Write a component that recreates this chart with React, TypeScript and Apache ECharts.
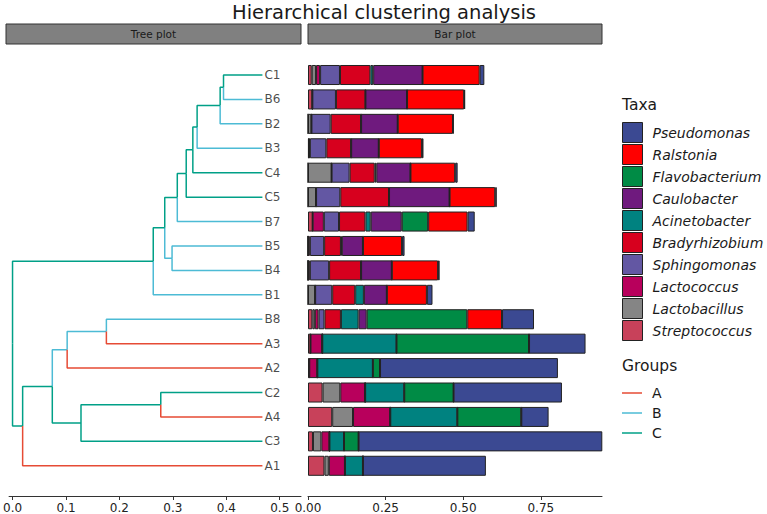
import React, { useEffect, useRef } from "react";
import * as echarts from "echarts";

// ---------- data ----------
const leaves = ["C1", "B6", "B2", "B3", "C4", "C5", "B7", "B5", "B4", "B1", "B8", "A3", "A2", "C2", "A4", "C3", "A1"];
const leafGroups = ["C", "B", "B", "B", "C", "C", "B", "B", "B", "B", "B", "A", "A", "C", "A", "C", "A"];
const leafHeight = 0.4676;

// internal nodes of the dendrogram (children listed before parents)
const nodeIds = ["m1", "m2", "m3", "m4", "m5", "m6", "m7", "m8", "m9", "m10", "m11", "m12", "m13", "m14", "m15", "root"];
const nodeChildren = [
  ["C1", "B6"], ["m1", "B2"], ["m2", "B3"], ["m3", "C4"], ["m4", "C5"], ["m5", "B7"],
  ["B5", "B4"], ["m6", "m7"], ["m8", "B1"],
  ["B8", "A3"], ["m10", "A2"], ["C2", "A4"], ["m12", "C3"], ["m11", "m13"], ["m14", "A1"],
  ["m9", "m15"],
];
const nodeHeights = [0.3948, 0.3885, 0.3454, 0.3374, 0.325, 0.3083, 0.2985, 0.2848, 0.2633, 0.1756, 0.1022, 0.2774, 0.1281, 0.0744, 0.0189, 0.0];
const nodeGroups = ["C", "C", "C", "C", "C", "C", "B", "C", "C", "B", "B", "C", "C", "C", "C", "C"];

const groupNames = ["A", "B", "C"];
const groupColors = ["#E64B35", "#4DBBD5", "#00A087"];

const treeTicks = [0, 0.1, 0.2, 0.3, 0.4, 0.5];
const barTicks = [0, 0.25, 0.5, 0.75];

// taxa in legend order (top to bottom)
const taxa = ["Pseudomonas", "Ralstonia", "Flavobacterium", "Caulobacter", "Acinetobacter", "Bradyrhizobium", "Sphingomonas", "Lactococcus", "Lactobacillus", "Streptococcus"];
const taxaColors = ["#3B4992", "#FF0000", "#008B45", "#6F1A7E", "#008280", "#D7001E", "#6357A3", "#B8005C", "#858585", "#C8415A"];

// relative abundance per sample, in leaf order
const pseudomonas = [0.015, 0.003, 0.002, 0.005, 0.008, 0.005, 0.023, 0.008, 0.005, 0.018, 0.103, 0.182, 0.573, 0.349, 0.088, 0.785, 0.396];
const ralstonia = [0.184, 0.184, 0.178, 0.139, 0.144, 0.147, 0.127, 0.126, 0.149, 0.129, 0.112, 0, 0, 0, 0, 0, 0];
const flavobacterium = [0, 0, 0, 0, 0, 0, 0.085, 0, 0, 0, 0.324, 0.427, 0.023, 0.159, 0.206, 0.047, 0];
const caulobacter = [0.159, 0.134, 0.118, 0.089, 0.110, 0.195, 0.100, 0.068, 0.099, 0.074, 0.026, 0, 0, 0, 0, 0, 0];
const acinetobacter = [0.009, 0, 0, 0, 0.005, 0, 0.017, 0.003, 0, 0.028, 0.057, 0.239, 0.179, 0.126, 0.216, 0.047, 0.058];
const bradyrhizobium = [0.098, 0.095, 0.098, 0.080, 0.081, 0.157, 0.085, 0.054, 0.103, 0.074, 0.053, 0, 0, 0, 0, 0, 0];
const sphingomonas = [0.064, 0.076, 0.062, 0.053, 0.058, 0.078, 0.049, 0.046, 0.062, 0.055, 0.019, 0, 0, 0, 0, 0, 0];
const lactococcus = [0.013, 0, 0, 0.003, 0, 0, 0.036, 0.006, 0.006, 0, 0.012, 0.038, 0.026, 0.080, 0.120, 0.026, 0.052];
const lactobacillus = [0.014, 0, 0.011, 0, 0.076, 0.026, 0, 0, 0, 0.023, 0.008, 0, 0, 0.057, 0.067, 0.027, 0.014];
const streptococcus = [0.012, 0.014, 0, 0.003, 0, 0, 0.015, 0, 0, 0, 0.014, 0.008, 0.004, 0.047, 0.078, 0.016, 0.053];

const taxaValues = [pseudomonas, ralstonia, flavobacterium, caulobacter, acinetobacter, bradyrhizobium, sphingomonas, lactococcus, lactobacillus, streptococcus];

// ---------- layout ----------
const FONT = "DejaVu Sans";
const rowBand = 24.44;
const gridTop = 62.8;
const gridHeight = leaves.length * rowBand;
const treeLeft = 6;
const treeWidth = 295;
const barLeft = 308;
const barWidthPx = 294;
const axisOffset = 18;
const lineIcon = "path://M0,0H20V1.5H0Z";

function buildOption() {
  const pos: Record<string, { x: number; y: number; g: string }> = {};
  leaves.forEach((l, i) => (pos[l] = { x: leafHeight, y: i, g: leafGroups[i] }));
  nodeIds.forEach((id, i) => {
    const [a, b] = nodeChildren[i];
    pos[id] = { x: nodeHeights[i], y: (pos[a].y + pos[b].y) / 2, g: nodeGroups[i] };
  });

  const edgeSeries: any[] = [];
  nodeIds.forEach((id, ni) => {
    const p = pos[id];
    nodeChildren[ni].forEach((c) => {
      const q = pos[c];
      const gi = groupNames.indexOf(q.g);
      edgeSeries.push({
        type: "line",
        name: q.g,
        xAxisIndex: 0,
        yAxisIndex: 0,
        data: [[p.x, p.y], [p.x, q.y], [q.x, q.y]],
        symbol: "none",
        showSymbol: false,
        silent: true,
        itemStyle: { color: groupColors[gi] },
        lineStyle: { color: groupColors[gi], width: 1.5 },
        z: q.g === "A" ? 3 : 2,
      });
    });
  });

  const labelSeries = {
    type: "scatter",
    xAxisIndex: 0,
    yAxisIndex: 0,
    symbol: "circle",
    symbolSize: 0.1,
    itemStyle: { color: "transparent" },
    silent: true,
    data: leaves.map((l, i) => ({ name: l, value: [leafHeight, i] })),
    label: {
      show: true,
      position: "right",
      distance: 2,
      formatter: "{b}",
      fontSize: 12,
      fontFamily: FONT,
      color: "#1a1a1a",
    },
  };

  // stack order: Streptococcus at the left, Pseudomonas at the right
  const barSeries = taxa
    .map((t, i) => ({
      type: "bar",
      name: t,
      stack: "taxa",
      xAxisIndex: 1,
      yAxisIndex: 1,
      barCategoryGap: "18%",
      data: taxaValues[i],
      itemStyle: { color: taxaColors[i], borderColor: "#222", borderWidth: 1 },
      silent: true,
    }))
    .reverse();

  const axisCommon = {
    type: "value",
    offset: axisOffset,
    axisLine: { show: true, onZero: false, lineStyle: { color: "#333", width: 1 } },
    splitLine: { show: false },
  };

  return {
    animation: false,
    graphic: [
      {
        type: "text",
        x: 384,
        y: 12,
        style: { text: "Hierarchical clustering analysis", fontSize: 19.5, fontFamily: FONT, fill: "#1a1a1a", align: "center", verticalAlign: "middle" },
      },
      { type: "rect", shape: { x: treeLeft, y: 24, width: treeWidth, height: 20 }, style: { fill: "#808080", stroke: "#333", lineWidth: 1 } },
      { type: "text", x: treeLeft + treeWidth / 2, y: 34, style: { text: "Tree plot", fontSize: 10.5, fontFamily: FONT, fill: "#1a1a1a", align: "center", verticalAlign: "middle" } },
      { type: "rect", shape: { x: barLeft, y: 24, width: barWidthPx, height: 20 }, style: { fill: "#808080", stroke: "#333", lineWidth: 1 } },
      { type: "text", x: barLeft + barWidthPx / 2, y: 34, style: { text: "Bar plot", fontSize: 10.5, fontFamily: FONT, fill: "#1a1a1a", align: "center", verticalAlign: "middle" } },
      { type: "text", x: 622, y: 105, style: { text: "Taxa", fontSize: 15.5, fontFamily: FONT, fill: "#1a1a1a", align: "left", verticalAlign: "middle" } },
      { type: "text", x: 622, y: 366, style: { text: "Groups", fontSize: 15.5, fontFamily: FONT, fill: "#1a1a1a", align: "left", verticalAlign: "middle" } },
    ],
    legend: [
      {
        data: taxa,
        orient: "vertical",
        left: 622,
        top: 122,
        padding: 0,
        itemWidth: 20,
        itemHeight: 20,
        itemGap: 1,
        icon: "rect",
        selectedMode: false,
        itemStyle: { borderColor: "#222", borderWidth: 1 },
        textStyle: { fontSize: 14, fontStyle: "italic", fontFamily: FONT, color: "#1a1a1a", padding: [0, 0, 0, 5] },
      },
      {
        data: groupNames.map((g) => ({ name: g, icon: lineIcon })),
        orient: "vertical",
        left: 622,
        top: 386,
        padding: 0,
        itemWidth: 20,
        itemHeight: 20,
        itemGap: 6,
        selectedMode: false,
        textStyle: { fontSize: 14, fontFamily: FONT, color: "#1a1a1a", padding: [0, 0, 0, 5] },
      },
    ],
    grid: [
      { left: treeLeft, top: gridTop, width: treeWidth, height: gridHeight, containLabel: false },
      { left: barLeft, top: gridTop, width: barWidthPx, height: gridHeight, containLabel: false },
    ],
    xAxis: [
      {
        ...axisCommon,
        gridIndex: 0,
        min: -0.00648,
        max: 0.5398,
        axisTick: { show: true, length: 4, customValues: treeTicks, lineStyle: { color: "#333" } },
        axisLabel: { customValues: treeTicks, formatter: (v: number) => v.toFixed(1), fontSize: 12, fontFamily: FONT, color: "#222", margin: 6 },
      },
      {
        ...axisCommon,
        gridIndex: 1,
        min: 0,
        max: 0.947,
        axisTick: { show: true, length: 4, customValues: barTicks, lineStyle: { color: "#333" } },
        axisLabel: { customValues: barTicks, formatter: (v: number) => v.toFixed(2), fontSize: 12, fontFamily: FONT, color: "#222", margin: 6 },
      },
    ],
    yAxis: [
      { type: "value", gridIndex: 0, min: -0.5, max: leaves.length - 0.5, inverse: true, show: false },
      { type: "category", gridIndex: 1, data: leaves, inverse: true, show: false },
    ],
    series: [...edgeSeries, labelSeries, ...barSeries],
  };
}

export default function App() {
  const ref = useRef<HTMLDivElement>(null);
  useEffect(() => {
    if (!ref.current) return;
    const chart = echarts.init(ref.current, undefined, { renderer: "svg" });
    chart.setOption(buildOption() as any);
    return () => chart.dispose();
  }, []);
  return <div ref={ref} style={{ position: "absolute", left: 0, top: 0, width: 767, height: 514, background: "#fff" }} />;
}
